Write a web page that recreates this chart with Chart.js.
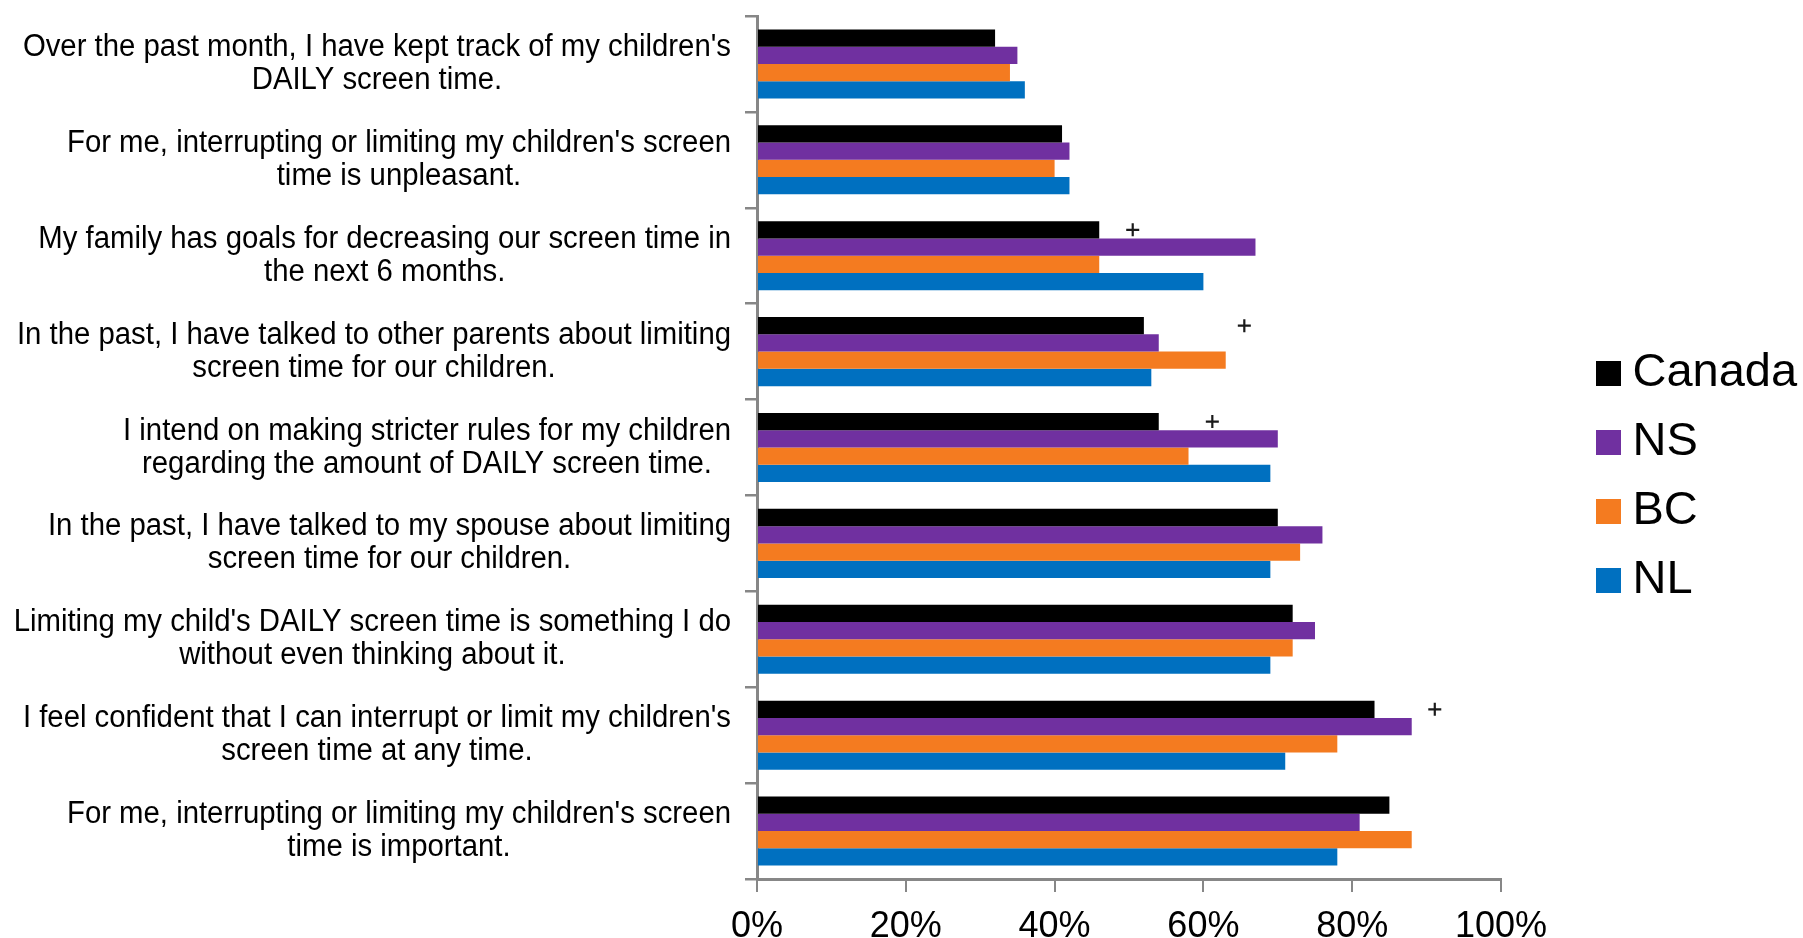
<!DOCTYPE html>
<html>
<head>
<meta charset="utf-8">
<script src="https://cdn.jsdelivr.net/npm/chart.js@4.4.1/dist/chart.umd.min.js"></script>
<style>
html, body { margin: 0; padding: 0; background: #fff; }
</style>
</head>
<body>
<canvas id="bar-chart" width="1803" height="938"></canvas>
<script>
var categories = [
	["Over the past month, I have kept track of my children's", "DAILY screen time."],
	["For me, interrupting or limiting my children's screen", "time is unpleasant."],
	["My family has goals for decreasing our screen time in", "the next 6 months."],
	["In the past, I have talked to other parents about limiting", "screen time for our children."],
	["I intend on making stricter rules for my children", "regarding the amount of DAILY screen time."],
	["In the past, I have talked to my spouse about limiting", "screen time for our children."],
	["Limiting my child's DAILY screen time is something I do", "without even thinking about it."],
	["I feel confident that I can interrupt or limit my children's", "screen time at any time."],
	["For me, interrupting or limiting my children's screen", "time is important."]
];
var canada = [32, 41, 46, 52, 54, 70, 72, 83, 85];
var ns     = [35, 42, 67, 54, 70, 76, 75, 88, 81];
var bc     = [34, 40, 46, 63, 58, 73, 72, 78, 88];
var nl     = [36, 42, 60, 53, 69, 69, 69, 71, 78];

// "+" marks next to some groups
var plusRows   = [2, 3, 4, 7];
var plusValues = [50.5, 65.5, 61.2, 91.1];

var xMin = 0, xMax = 100, xStep = 20;

var axisGray = "#878787";
var labelFont = '"Liberation Sans", Arial, sans-serif';

// little square used as legend marker
function swatch(color) {
	var c = document.createElement('canvas');
	c.width = 25; c.height = 25;
	var g = c.getContext('2d');
	g.fillStyle = color;
	g.fillRect(0, 0, 25, 25);
	return c;
}

// category labels: block right aligned, lines centred inside the block,
// slightly condensed like the original
var sideLabels = {
	id: 'sideLabels',
	afterDraw: function(chart) {
		var ctx = chart.ctx;
		var yScale = chart.scales.y;
		var right = yScale.right - 26;
		var sx = 0.946;
		ctx.save();
		ctx.font = '31px ' + labelFont;
		ctx.fillStyle = '#000';
		ctx.textAlign = 'center';
		ctx.textBaseline = 'middle';
		chart.data.labels.forEach(function(lines, i){
			var yc = yScale.getPixelForValue(i);
			var w = 0;
			lines.forEach(function(l){ w = Math.max(w, ctx.measureText(l).width * sx); });
			var cx = right - w / 2;
			lines.forEach(function(l, k){
				ctx.save();
				ctx.translate(cx, yc + (k - (lines.length - 1) / 2) * 33);
				ctx.scale(sx, 1);
				ctx.fillText(l, 0, 0);
				ctx.restore();
			});
		});
		ctx.restore();
	}
};

var plusMarks = {
	id: 'plusMarks',
	afterDatasetsDraw: function(chart) {
		var ctx = chart.ctx;
		var meta = chart.getDatasetMeta(0);
		ctx.save();
		ctx.strokeStyle = '#1a1a1a';
		ctx.lineWidth = 2.2;
		for (var k = 0; k < plusRows.length; k++) {
			var bar = meta.data[plusRows[k]];
			var x = chart.scales.x.getPixelForValue(plusValues[k]);
			var y = bar.y;
			ctx.beginPath();
			ctx.moveTo(x - 6.5, y); ctx.lineTo(x + 6.5, y);
			ctx.moveTo(x, y - 6.5); ctx.lineTo(x, y + 6.5);
			ctx.stroke();
		}
		ctx.restore();
	}
};

var context = document.getElementById('bar-chart').getContext('2d');
var chart = new Chart(context, {
	type: 'bar',
	data: {
		labels: categories,
		datasets: [
			{ label: "Canada", data: canada, backgroundColor: "#000000" },
			{ label: "NS", data: ns, backgroundColor: "#7030A0" },
			{ label: "BC", data: bc, backgroundColor: "#F47B20" },
			{ label: "NL", data: nl, backgroundColor: "#0070C0" }
		]
	},
	options: {
		indexAxis: 'y',
		responsive: false,
		animation: false,
		layout: { padding: { top: 16, left: 0, right: 0, bottom: 0 } },
		datasets: { bar: { categoryPercentage: 0.72, barPercentage: 1.0 } },
		scales: {
			x: {
				min: xMin, max: xMax,
				border: { color: axisGray, width: 3 },
				grid: { drawOnChartArea: false, drawTicks: true, tickLength: 13, color: axisGray, lineWidth: 2 },
				ticks: {
					stepSize: xStep,
					padding: 13,
					color: '#000',
					font: { family: labelFont, size: 36 },
					callback: function(v){ return v + '%'; }
				},
				afterFit: function(s){ s.height = 59; }
			},
			y: {
				border: { color: axisGray, width: 3 },
				grid: { drawOnChartArea: false, drawTicks: true, tickLength: 12, color: axisGray, lineWidth: 2.5 },
				ticks: { display: false },
				afterFit: function(s){ s.width = 757; }
			},
			yRight: {
				type: 'category',
				position: 'right',
				display: true,
				grid: { display: false },
				border: { display: false },
				ticks: { display: false },
				afterFit: function(s){ s.width = 85; }
			}
		},
		plugins: {
			legend: {
				position: 'right',
				maxWidth: 217,
				labels: {
					usePointStyle: true,
					pointStyleWidth: 1,
					boxHeight: 25,
					padding: 22,
					color: '#000',
					font: { family: labelFont, size: 47 },
					generateLabels: function(chart) {
						var items = Chart.defaults.plugins.legend.labels.generateLabels(chart);
						items.forEach(function(it, i){
							it.pointStyle = swatch(chart.data.datasets[i].backgroundColor);
						});
						return items;
					}
				}
			},
			tooltip: { enabled: false }
		}
	},
	plugins: [sideLabels, plusMarks]
});
</script>
</body>
</html>
